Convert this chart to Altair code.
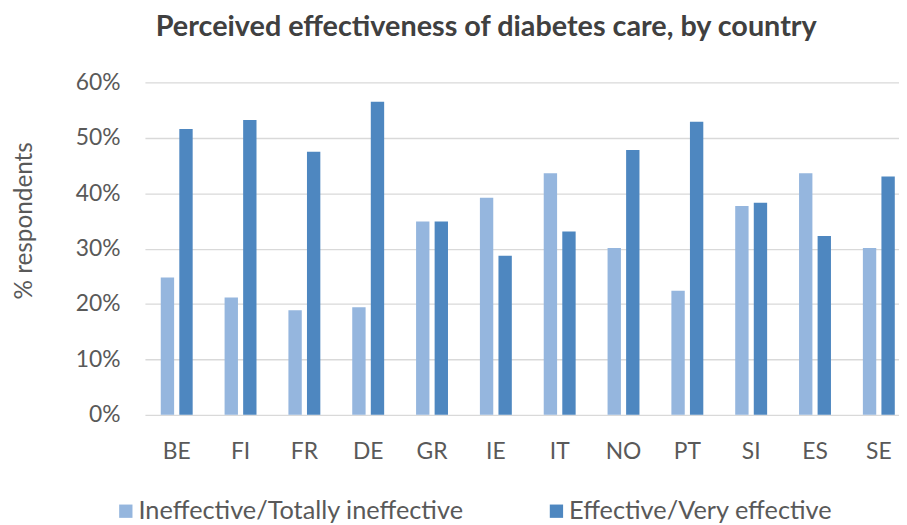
import altair as alt
import pandas as pd

countries = ["BE", "FI", "FR", "DE", "GR", "IE", "IT", "NO", "PT", "SI", "ES", "SE"]
ineffective = [24.8, 21.2, 18.9, 19.4, 34.9, 39.2, 43.6, 30.1, 22.4, 37.7, 43.6, 30.1]
effective = [51.6, 53.2, 47.5, 56.5, 34.9, 28.7, 33.1, 47.8, 52.9, 38.3, 32.3, 43.0]
series = ["Ineffective/Totally ineffective", "Effective/Very effective"]
colors = ["#95B6DE", "#4E87C0"]
y_ticks = [0, 10, 20, 30, 40, 50, 60]

rows = []
for i, c in enumerate(countries):
    rows.append({"country": c, "series": series[0], "value": ineffective[i]})
    rows.append({"country": c, "series": series[1], "value": effective[i]})
df = pd.DataFrame(rows)

FONT = "Lato"

chart = (
    alt.Chart(df)
    .mark_bar()
    .encode(
        x=alt.X(
            "country:N",
            sort=countries,
            scale=alt.Scale(paddingInner=0.5, paddingOuter=0.157, align=0.79),
            axis=alt.Axis(
                title=None,
                labelAngle=0,
                domain=False,
                ticks=False,
                labelPadding=26,
                labelFontSize=23,
                labelColor="#595959",
                labelFont=FONT,
            ),
        ),
        xOffset=alt.XOffset("series:N", sort=series, scale=alt.Scale(paddingInner=0.28, paddingOuter=0)),
        y=alt.Y(
            "value:Q",
            scale=alt.Scale(domain=[0, 60], nice=False),
            axis=alt.Axis(
                values=y_ticks,
                labelExpr="datum.value + '%'",
                title="% respondents",
                titleFont=FONT,
                titleFontSize=24.5,
                titleFontWeight="normal",
                titleColor="#595959",
                titleX=-121,
                titleY=139,
                titleAngle=270,
                titleAlign="center",
                titleBaseline="middle",
                domain=False,
                ticks=False,
                labelPadding=25,
                labelFontSize=23,
                labelColor="#595959",
                labelFont=FONT,
                gridColor="#D9D9D9",
                gridWidth=1.3,
            ),
        ),
        color=alt.Color(
            "series:N",
            sort=series,
            scale=alt.Scale(domain=series, range=colors),
            legend=alt.Legend(
                title=None,
                orient="none",
                direction="horizontal",
                legendX=-32,
                legendY=419,
                symbolType="square",
                symbolSize=180,
                symbolStrokeWidth=0,
                symbolOpacity=1,
                labelFontSize=25.5,
                labelFont=FONT,
                labelColor="#595959",
                labelOffset=0,
                columnPadding=80,
                labelLimit=500,
            ),
        ),
    )
    .properties(
        width=760,
        height=335,
        autosize=alt.AutoSizeParams(type="none"),
        padding={"left": 138, "top": 73, "right": 0, "bottom": 108},
        title=alt.TitleParams(
            text="Perceived effectiveness of diabetes care, by country",
            anchor="middle",
            dx=-36,
            offset=30,
            fontSize=29,
            fontWeight="bold",
            font=FONT,
            color="#404040",
        ),
    )
    .configure_view(stroke=None)
)

chart.save("out.html", embed_options={"renderer": "svg", "actions": False})
